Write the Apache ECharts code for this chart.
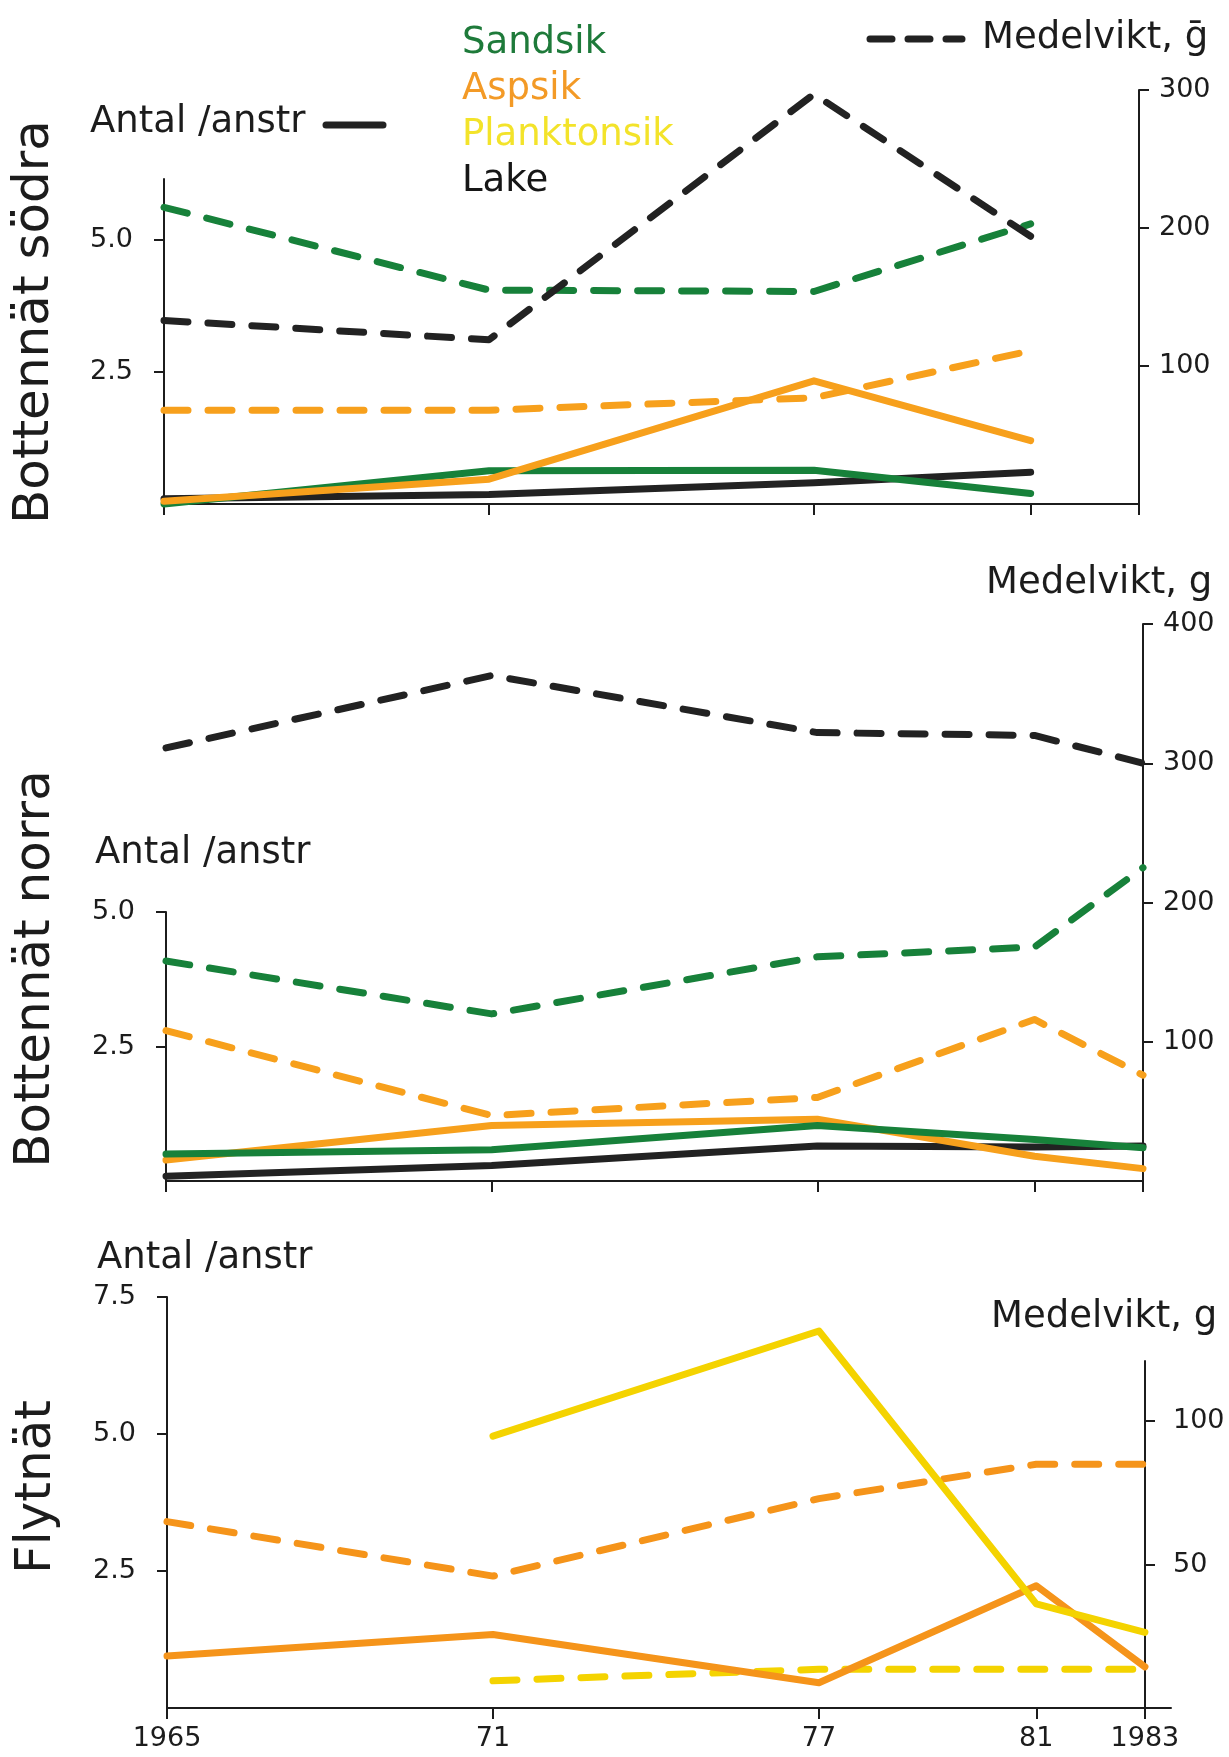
<!DOCTYPE html>
<html>
<head>
<meta charset="utf-8">
<title>Sik och lake – antal och medelvikt</title>
<script src="https://cdn.jsdelivr.net/npm/echarts@6/dist/echarts.min.js"></script>
<style>
  html, body { margin: 0; padding: 0; background: #fff; }
  #chart { width: 1229px; height: 1757px; }
</style>
</head>
<body>
<div id="chart"></div>
<script>
// years on the x axis (unevenly spaced, so a value axis is used)
const years = [1965, 1971, 1977, 1981, 1983];
const yearLabels = ['1965', '71', '77', '81', '1983'];

// Bottennät södra (1965-1981)
const sodraSandsikAntal = [0.0, 0.63, 0.64, 0.2];
const sodraAspsikAntal = [0.05, 0.47, 2.33, 1.2];
const sodraLakeAntal = [0.1, 0.18, 0.4, 0.6];
const sodraSandsikVikt = [215, 155, 154, 203];
const sodraAspsikVikt = [68, 68, 77, 111];
const sodraLakeVikt = [133, 119, 297, 194];

// Bottennät norra
const norraSandsikAntal = [0.5, 0.58, 1.03, 0.77, 0.62];
const norraAspsikAntal = [0.39, 1.03, 1.15, 0.46, 0.23];
const norraLakeAntal = [0.09, 0.29, 0.65, 0.63, 0.65];
const norraSandsikVikt = [158, 120, 161, 168, 225];
const norraAspsikVikt = [108, 47, 60, 116, 76];
const norraLakeVikt = [311, 363, 322, 320, 300];

// Flytnät
const flytAspsikAntal = [0.95, 1.34, 0.46, 2.23, 0.75];
const flytPlanktonAntal = [null, 4.96, 6.88, 1.9, 1.38];
const flytAspsikVikt = [65, 46, 73, 85, 85];
const flytPlanktonVikt = [null, 9.5, 13.5, 13.5, 13.5];

const FONT = '"DejaVu Sans", sans-serif';
const INK = '#1c1c1c';
const GREEN = '#17813a';
const ORANGE = '#f7a01c';
const ORANGE2 = '#f5941a';
const YELLOW = '#f4d300';
const BLACK = '#222222';

function pairs(vals) {
	return vals.map((v, i) => [years[i], v]);
}

// one line; axis = index of grid / xAxis / yAxis pair
function serie(name, color, vals, axis, dashed) {
	return {
		name: name,
		type: 'line',
		xAxisIndex: axis,
		yAxisIndex: axis,
		data: pairs(vals),
		symbol: 'none',
		silent: true,
		clip: false,
		connectNulls: false,
		lineStyle: {
			color: color,
			width: 7,
			type: dashed ? [24, 20] : 'solid',
			cap: 'round',
			join: 'round'
		},
		itemStyle: { color: color },
		z: dashed ? 2 : 3
	};
}

function xAxis(gridIndex, visible, labels, max) {
	return {
		type: 'value',
		gridIndex: gridIndex,
		min: 1965,
		max: max || 1983,
		show: visible,
		axisLine: { show: true, onZero: false, lineStyle: { color: INK, width: 2 } },
		axisTick: { show: true, customValues: years, length: 11, lineStyle: { color: INK, width: 2 } },
		axisLabel: {
			show: labels,
			customValues: years,
			margin: 17,
			fontFamily: FONT,
			fontSize: 27,
			color: INK,
			formatter: function(v) { return yearLabels[years.indexOf(v)]; }
		},
		splitLine: { show: false }
	};
}

function yAxis(gridIndex, side, max, ticks, margin, offset, fmt) {
	return {
		type: 'value',
		gridIndex: gridIndex,
		position: side,
		offset: offset || 0,
		min: 0,
		max: max,
		axisLine: { show: true, onZero: false, lineStyle: { color: INK, width: 2 } },
		axisTick: { show: true, customValues: ticks, length: 10, lineStyle: { color: INK, width: 2 } },
		axisLabel: {
			customValues: ticks,
			margin: margin,
			fontFamily: FONT,
			fontSize: 27,
			color: INK,
			formatter: fmt
		},
		splitLine: { show: false }
	};
}

function label(text, x, y, size, rot) {
	return {
		type: 'text',
		x: x,
		y: y,
		rotation: rot || 0,
		silent: true,
		style: {
			text: text,
			fontFamily: FONT,
			fontSize: size,
			fill: INK,
			align: rot ? 'center' : 'left',
			verticalAlign: 'middle'
		}
	};
}

const fmt1 = v => v.toFixed(1);
const fmt0 = v => String(v);

const chart = echarts.init(document.getElementById('chart'), null, { renderer: 'canvas' });

chart.setOption({
	animation: false,
	backgroundColor: '#ffffff',
	textStyle: { fontFamily: FONT },
	legend: {
		orient: 'vertical',
		left: 452,
		top: 15,
		icon: 'none',
		itemWidth: 0,
		itemHeight: 10,
		itemGap: 0,
		selectedMode: false,
		textStyle: { fontFamily: FONT, fontSize: 37, lineHeight: 46 },
		data: [
			{ name: 'Sandsik', textStyle: { color: '#1e7a3a' } },
			{ name: 'Aspsik', textStyle: { color: '#f39a26' } },
			{ name: 'Planktonsik', textStyle: { color: '#f3e32a' } },
			{ name: 'Lake', textStyle: { color: '#161616' } }
		]
	},
	grid: [
		{ left: 164, right: 90, top: 179, bottom: 1253, outerBoundsMode: 'none', containLabel: false },
		{ left: 164, right: 90, top: 90, bottom: 1253, outerBoundsMode: 'none', containLabel: false },
		{ left: 166, right: 86, top: 912, bottom: 576, outerBoundsMode: 'none', containLabel: false },
		{ left: 166, right: 86, top: 624, bottom: 576, outerBoundsMode: 'none', containLabel: false },
		{ left: 167, right: 58, top: 1297, bottom: 49, outerBoundsMode: 'none', containLabel: false },
		{ left: 167, right: 58, top: 1361, bottom: 49, outerBoundsMode: 'none', containLabel: false }
	],
	xAxis: [
		xAxis(0, true, false),
		xAxis(1, false, false),
		xAxis(2, true, false),
		xAxis(3, false, false),
		xAxis(4, true, true, 1983.48),
		xAxis(5, false, false, 1983.48)
	],
	yAxis: [
		yAxis(0, 'left', 6.15, [2.5, 5], 31, 0, fmt1),
		yAxis(1, 'right', 300, [100, 200, 300], 20, 0, fmt0),
		yAxis(2, 'left', 5, [2.5, 5], 31, 0, fmt1),
		yAxis(3, 'right', 400, [100, 200, 300, 400], 20, 0, fmt0),
		yAxis(4, 'left', 7.5, [2.5, 5, 7.5], 31, 0, fmt1),
		yAxis(5, 'right', 121, [50, 100], 28, -26, fmt0)
	],
	graphic: [
		label('Bottennät södra', 35, 322, 50, Math.PI / 2),
		label('Bottennät norra', 36, 969, 50, Math.PI / 2),
		label('Flytnät', 37, 1487, 50, Math.PI / 2),
		label('Antal /anstr', 90, 122, 37),
		label('Antal /anstr', 95, 853, 37),
		label('Antal /anstr', 97, 1258, 37),
		label('Medelvikt, ḡ', 982, 38, 37),
		label('Medelvikt, g', 986, 583, 37),
		label('Medelvikt, g', 991, 1317, 37),
		{
			type: 'line',
			silent: true,
			shape: { x1: 326, y1: 125, x2: 383, y2: 125 },
			style: { stroke: BLACK, lineWidth: 7, lineCap: 'round' }
		},
		{
			type: 'line',
			silent: true,
			shape: { x1: 870, y1: 39, x2: 962, y2: 39 },
			style: { stroke: BLACK, lineWidth: 7, lineCap: 'round', lineDash: [22, 16] }
		}
	],
	series: [
		// södra
		serie('Sandsik', GREEN, sodraSandsikVikt, 1, true),
		serie('Aspsik', ORANGE, sodraAspsikVikt, 1, true),
		serie('Lake', BLACK, sodraLakeVikt, 1, true),
		serie('Lake', BLACK, sodraLakeAntal, 0, false),
		serie('Sandsik', GREEN, sodraSandsikAntal, 0, false),
		serie('Aspsik', ORANGE, sodraAspsikAntal, 0, false),
		// norra
		serie('Lake', BLACK, norraLakeVikt, 3, true),
		serie('Sandsik', GREEN, norraSandsikVikt, 3, true),
		serie('Aspsik', ORANGE, norraAspsikVikt, 3, true),
		serie('Lake', BLACK, norraLakeAntal, 2, false),
		serie('Aspsik', ORANGE, norraAspsikAntal, 2, false),
		serie('Sandsik', GREEN, norraSandsikAntal, 2, false),
		// flytnät
		serie('Aspsik', ORANGE2, flytAspsikVikt, 5, true),
		serie('Planktonsik', YELLOW, flytPlanktonVikt, 5, true),
		serie('Aspsik', ORANGE2, flytAspsikAntal, 4, false),
		serie('Planktonsik', YELLOW, flytPlanktonAntal, 4, false)
	]
});
</script>
</body>
</html>
